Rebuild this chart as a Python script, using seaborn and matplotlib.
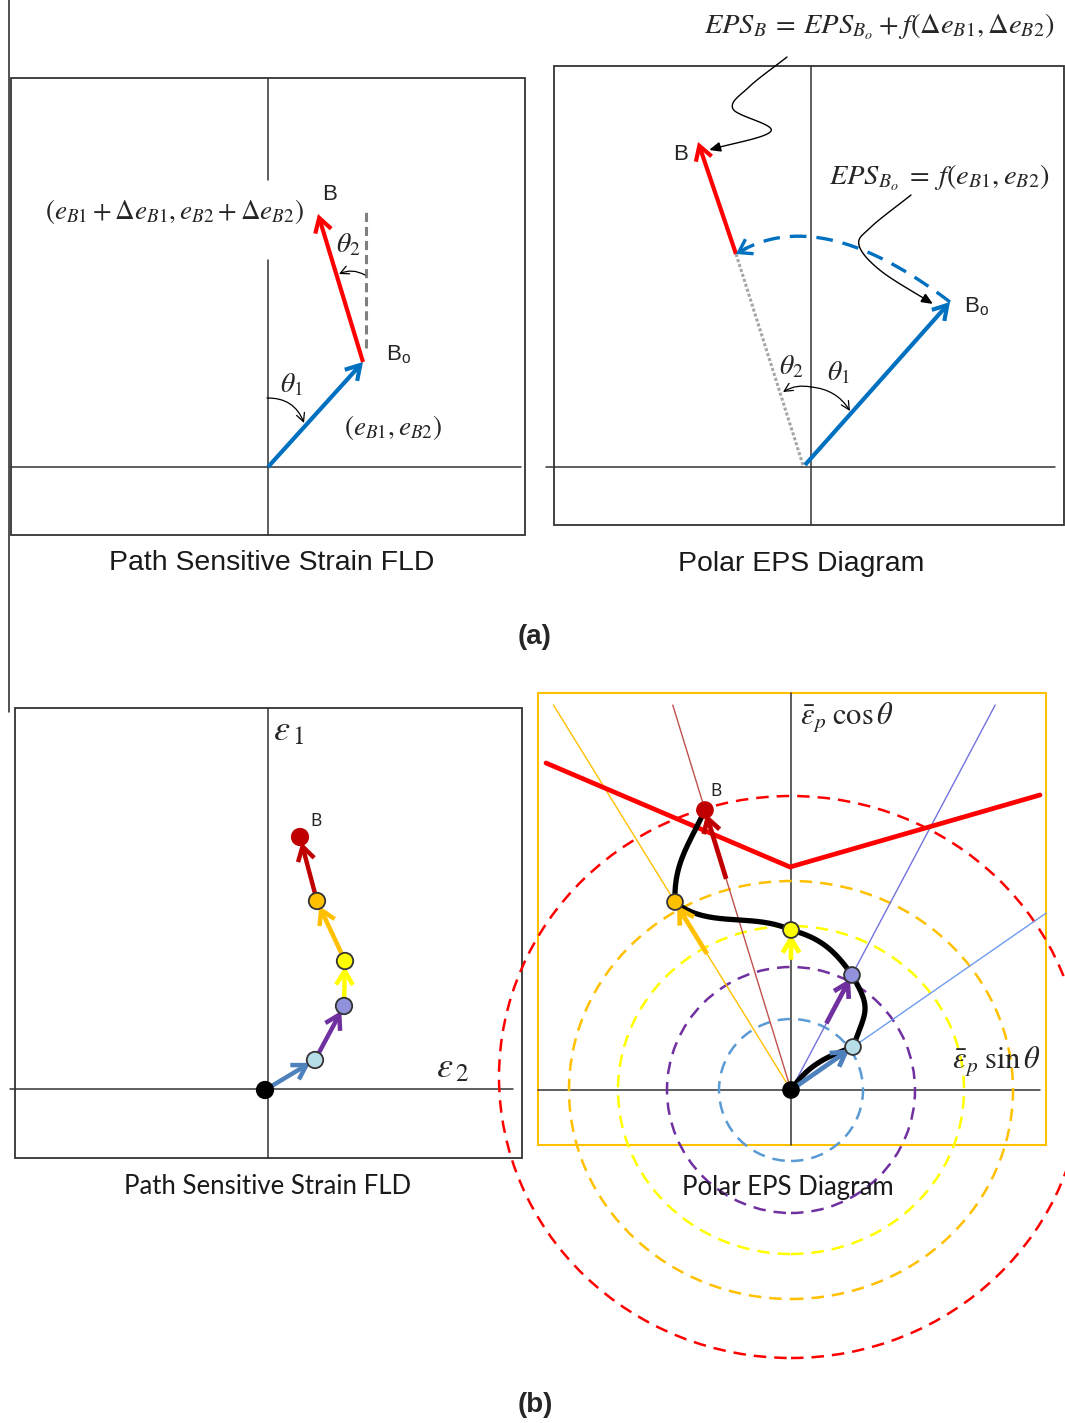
import numpy as np
import pandas as pd
import matplotlib
matplotlib.use("Agg")
import matplotlib.pyplot as plt
import seaborn as sns
from matplotlib.patches import FancyArrowPatch, Rectangle, Ellipse

sns.set_theme(style="white")
plt.rcParams["font.family"] = ["Liberation Sans", "DejaVu Sans"]
plt.rcParams["mathtext.fontset"] = "stix"

W, H = 1065, 1423

# ---------------- data ----------------
# (a) left: strain path in the FLD (e2, e1): origin, Bo, B
fld_a_e2 = [0, 95, 50]
fld_a_e1 = [0, 105, 253]
# (a) right: polar EPS: start, Bo, turning point, B
polar_a_x = [-6, 139, -75, -113]
polar_a_y = [2, 165, 213, 325]
polar_a_arc_mid = (20, 227)

# (b) left: strain path nodes (origin, 4 intermediate, B)
path_e2 = [-3, 47, 76, 77, 49, 32]
path_e1 = [-1, 29, 83, 128, 188, 252]
# (b) right: the same path in the polar EPS diagram
polar_x = [0, 62, 61, 0, -116, -86]
polar_y = [0, 43, 115, 160, 188, 280]
# tangent directions (deg) leaving / arriving each node of the black curve
tan_out = [55, 70, 125, 155, 92]
tan_in = [20, 120, 165, 140, 65]
handle = [0.4, 0.55, 0.4, 0.35, 0.4]
# EPS rings
ring_rx = [72, 124, 173, 222, 292]
ring_ry = [71, 123, 164, 209, 281]
ring_cy = [0, 0, 0, 0, 13]
# forming limit curve in polar form
limit_x = [-245, -1, 249]
limit_y = [327, 223, 295]

node_colors = ["#000000", "#b7dee8", "#9191dc", "#ffff00", "#ffc000", "#c00000"]
node_edges = ["#000000", "#333333", "#333333", "#333333", "#333333", "#c00000"]
step_colors = ["#4f81bd", "#7030a0", "#ffff00", "#ffc000", "#c00000"]
ring_colors = ["#5b9bd5", "#7030a0", "#ffff00", "#ffc000", "#ff0000"]
ray_colors = ["#6f9cf0", "#7272dd", None, "#ffc000", "#c0504d"]

fig = plt.figure(figsize=(W / 100, H / 100), dpi=100)


def panel(ox, oy):
    # full-figure axes, 1 unit = 1 px, origin at (ox, oy) from the top-left corner
    ax = fig.add_axes([0, 0, 1, 1])
    ax.set_axis_off()
    ax.origin = (ox, oy)
    return ax


def fix(ax):
    ox, oy = ax.origin
    ax.set_xlim(-ox, W - ox)
    ax.set_ylim(oy - H, oy)


def arrow(ax, p0, p1, color, lw, hl=9, hw=5, style="->", z=4, shrinkB=0):
    ax.add_patch(FancyArrowPatch(p0, p1, arrowstyle=f"{style},head_length={hl},head_width={hw}",
                                 mutation_scale=1, lw=lw, color=color, shrinkA=0,
                                 shrinkB=shrinkB, zorder=z, capstyle="butt", joinstyle="miter"))


def curl(ax, p0, p1, rad, color="black"):
    ax.annotate("", xy=p1, xytext=p0,
                arrowprops=dict(arrowstyle="->,head_length=6,head_width=3", mutation_scale=1,
                                connectionstyle=f"arc3,rad={rad}", lw=0.9, color=color,
                                shrinkA=0, shrinkB=0))


def catmull(px, py, n=30):
    pts = np.column_stack([px, py]).astype(float)
    pts = np.vstack([2 * pts[0] - pts[1], pts, 2 * pts[-1] - pts[-2]])
    out = []
    t = np.linspace(0, 1, n)[:, None]
    for i in range(1, len(pts) - 2):
        p0, p1, p2, p3 = pts[i - 1:i + 3]
        out.append(0.5 * (2 * p1 + (-p0 + p2) * t + (2 * p0 - 5 * p1 + 4 * p2 - p3) * t ** 2
                          + (-p0 + 3 * p1 - 3 * p2 + p3) * t ** 3))
    return np.vstack(out)


def pointer(ax, px, py):
    c = catmull(px, py)
    ax.plot(c[:-3, 0], c[:-3, 1], color="black", lw=1.0, zorder=5)
    arrow(ax, tuple(c[-5]), tuple(c[-1]), "black", 1.0, hl=7, hw=3, style="-|>", z=5)


def dots(ax, x, y, size):
    df = pd.DataFrame({"x": x, "y": y, "node": [f"n{i}" for i in range(len(x))]})
    sns.scatterplot(data=df, x="x", y="y", hue="node", palette=dict(zip(df.node, node_colors)),
                    s=size, edgecolor=node_edges, linewidth=1.3, legend=False, ax=ax, zorder=7)


frame_kw = dict(fill=False, ec="#333333", lw=1.3, zorder=1)
axis_kw = dict(color="#333333", lw=1.1, zorder=1)
title_kw = dict(fontsize=20.4, ha="center", va="center", color="#1a1a1a")
eq_kw = dict(fontsize=20.5, ha="center", va="center")

# ---------------- (a) left ----------------
ax1 = panel(268, 467)
ax1.add_patch(Rectangle((-257, -68), 514, 457, **frame_kw))
ax1.plot([-259, -259], [467, -245], color="#222222", lw=1.1)
ax1.plot([0, 0], [-68, 207], **axis_kw)
ax1.plot([0, 0], [287, 389], **axis_kw)
ax1.plot([-257, 253], [0, 0], **axis_kw)
ax1.plot([98, 98], [119, 258], color="#808080", lw=2.2, dashes=(3, 1.6), zorder=2)
arrow(ax1, (fld_a_e2[0], fld_a_e1[0]), (fld_a_e2[1], fld_a_e1[1]), "#0070c0", 3.0, hl=10, hw=6)
arrow(ax1, (fld_a_e2[1], fld_a_e1[1]), (fld_a_e2[2], fld_a_e1[2]), "#ff0000", 3.0, hl=10, hw=6)
curl(ax1, (-1, 69), (36, 44), -0.35)
curl(ax1, (97, 192), (71, 193), 0.25)
ax1.text(23, 82, r"$\theta_1$", fontsize=20, ha="center", va="center")
ax1.text(80, 222, r"$\theta_2$", fontsize=20, ha="center", va="center")
ax1.text(62, 272, "B", fontsize=16, ha="center", va="center")
ax1.text(118, 113, r"B$_\mathregular{o}$", fontsize=16, ha="left", va="center")
ax1.text(-223, 255, r"$\left(e_{B1}+\Delta e_{B1}, e_{B2}+\Delta e_{B2}\right)$",
         fontsize=19.5, ha="left", va="center")
ax1.text(76, 39, r"$\left(e_{B1}, e_{B2}\right)$", fontsize=19.5, ha="left", va="center")
ax1.text(4, -96, "Path Sensitive Strain FLD", **title_kw)
ax1.text(267, -170, "(a)", fontsize=20, fontweight="bold", ha="center", va="center")
fix(ax1)

# ---------------- (a) right ----------------
ax2 = panel(811, 467)
ax2.add_patch(Rectangle((-257, -58), 510, 459, **frame_kw))
ax2.plot([0, 0], [-58, 401], **axis_kw)
ax2.plot([-265, 244], [0, 0], **axis_kw)
ax2.plot([-8, polar_a_x[2]], [2, polar_a_y[2]], color="#a6a6a6", lw=2.2, dashes=(1, 0.7), zorder=2)
arrow(ax2, (polar_a_x[0], polar_a_y[0]), (polar_a_x[1], polar_a_y[1]), "#0070c0", 3.0, hl=10, hw=6)
arrow(ax2, (polar_a_x[2], polar_a_y[2]), (polar_a_x[3], polar_a_y[3]), "#ff0000", 3.0, hl=10, hw=6)
p0 = np.array([polar_a_x[1], polar_a_y[1]], float)
p2 = np.array([polar_a_x[2], polar_a_y[2]], float)
p1 = (4 * np.array(polar_a_arc_mid) - p0 - p2) / 2
t = np.linspace(0, 1, 80)[:, None]
arc = (1 - t) ** 2 * p0 + 2 * (1 - t) * t * p1 + t ** 2 * p2
ax2.plot(arc[:-4, 0], arc[:-4, 1], color="#0070c0", lw=2.4, dashes=(5, 3), zorder=3)
arrow(ax2, tuple(arc[-6]), tuple(arc[-1]), "#0070c0", 2.4, hl=9, hw=6)
curl(ax2, (0, 80), (-28, 75), 0.2)
curl(ax2, (0, 80), (39, 56), -0.25)
ax2.text(-20, 100, r"$\theta_2$", fontsize=20, ha="center", va="center")
ax2.text(27, 94, r"$\theta_1$", fontsize=20, ha="center", va="center")
ax2.text(-130, 312, "B", fontsize=16, ha="center", va="center")
ax2.text(153, 161, r"B$_\mathregular{o}$", fontsize=16, ha="left", va="center")
pointer(ax2, [-24, -62, -78, -40, -102], [410, 380, 358, 336, 317])
pointer(ax2, [100, 60, 48, 70, 122], [272, 240, 222, 196, 163])
ax2.text(68, 440, r"$EPS_B\:=\:EPS_{B_o}\:+\:f\left(\Delta e_{B1},\Delta e_{B2}\right)$", **eq_kw)
ax2.text(128, 289, r"$EPS_{B_o}\;=\;f\left(e_{B1},e_{B2}\right)$", **eq_kw)
ax2.text(-10, -97, "Polar EPS Diagram", **title_kw)
fix(ax2)

# ---------------- (b) left ----------------
ax3 = panel(268, 1089)
ax3.add_patch(Rectangle((-253, -69), 507, 450, **frame_kw))
ax3.plot([0, 0], [-69, 381], **axis_kw)
ax3.plot([-258, 245], [0, 0], **axis_kw)
for i in range(5):
    arrow(ax3, (path_e2[i], path_e1[i]), (path_e2[i + 1], path_e1[i + 1]),
          step_colors[i], 3.2, hl=10, hw=6, shrinkB=4)
dots(ax3, path_e2, path_e1, 140)
ax3.text(5, 358, r"$\varepsilon_{\,1}$", fontsize=26, ha="left", va="center")
ax3.text(168, 21, r"$\varepsilon_{\,2}$", fontsize=26, ha="left", va="center")
ax3.text(48, 268, "B", fontsize=12.5, ha="center", va="center", family="Lato")
ax3.text(0, -97, "Path Sensitive Strain FLD", fontsize=18.5, ha="center", va="center",
         family="Lato", color="#1a1a1a")
ax3.text(267, -316, "(b)", fontsize=20, fontweight="bold", ha="center", va="center")
fix(ax3)

# ---------------- (b) right ----------------
ax4 = panel(791, 1090)
ax4.add_patch(Rectangle((-253, -55), 508, 452, fill=False, ec="#ffc000", lw=1.5, zorder=1))
ax4.plot([0, 0], [-55, 397], **axis_kw)
ax4.plot([-253, 249], [0, 0], **axis_kw)
for rx, ry, cy, c in zip(ring_rx, ring_ry, ring_cy, ring_colors):
    ax4.add_patch(Ellipse((0, cy), 2 * rx, 2 * ry, fill=False, ec=c, lw=1.8,
                          ls=(0, (5, 3.2)), zorder=2))
for i in range(5):
    if ray_colors[i] is None:
        continue
    x, y = polar_x[i + 1], polar_y[i + 1]
    s = 385 / y
    if x > 0:
        s = min(s, 255 / x)
    ax4.plot([0, x * s], [0, y * s], color=ray_colors[i], lw=1.0, zorder=2)
ax4.plot(limit_x, limit_y, color="#ff0000", lw=3.4, zorder=3, solid_joinstyle="miter")
# black curve through the polar nodes (cubic Bezier pieces)
curve = []
for i in range(5):
    a = np.array([polar_x[i], polar_y[i]], float)
    b = np.array([polar_x[i + 1], polar_y[i + 1]], float)
    h = handle[i] * np.hypot(*(b - a))
    c1 = a + h * np.array([np.cos(np.radians(tan_out[i])), np.sin(np.radians(tan_out[i]))])
    c2 = b - h * np.array([np.cos(np.radians(tan_in[i])), np.sin(np.radians(tan_in[i]))])
    tt = np.linspace(0, 1, 40)[:, None]
    curve.append((1 - tt) ** 3 * a + 3 * (1 - tt) ** 2 * tt * c1 + 3 * (1 - tt) * tt ** 2 * c2 + tt ** 3 * b)
curve = np.vstack(curve)
ax4.plot(curve[:, 0], curve[:, 1], color="black", lw=3.8, zorder=4, solid_capstyle="round")
for i in range(5):
    b = np.array([polar_x[i + 1], polar_y[i + 1]], float)
    if i == 0:
        a = np.zeros(2)
    else:
        prev = np.hypot(polar_x[i], polar_y[i])
        a = b * prev / np.hypot(*b)
    arrow(ax4, tuple(a), tuple(b), step_colors[i], 3.4, hl=10, hw=6, z=5, shrinkB=3)
dots(ax4, polar_x, polar_y, 130)
ax4.text(9, 372, r"$\bar{\varepsilon}_p\;\cos\theta$", fontsize=22, ha="left", va="center")
ax4.text(250, 28, r"$\bar{\varepsilon}_p\;\sin\theta$", fontsize=22, ha="right", va="center")
ax4.text(-75, 299, "B", fontsize=12.5, ha="center", va="center", family="Lato")
ax4.text(-3, -97, "Polar EPS Diagram", fontsize=18.5, ha="center", va="center",
         family="Lato", color="#1a1a1a", zorder=8)
fix(ax4)

fig.savefig("out.png", dpi=100)
